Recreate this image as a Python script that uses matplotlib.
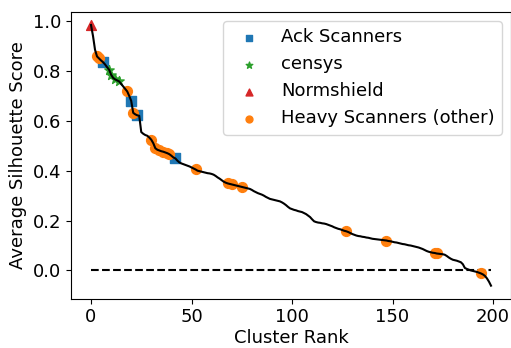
import matplotlib
matplotlib.use("Agg")
import matplotlib.pyplot as plt
import numpy as np

scores = [
    0.984, 0.940, 0.885, 0.858, 0.850, 0.842, 0.835, 0.826, 0.815, 0.805,
    0.785, 0.772, 0.766, 0.762, 0.758, 0.748, 0.738, 0.728, 0.718, 0.700,
    0.680, 0.632, 0.626, 0.622, 0.620, 0.555, 0.548, 0.543, 0.540, 0.533,
    0.524, 0.510, 0.490, 0.484, 0.481, 0.478, 0.476, 0.473, 0.470, 0.466,
    0.460, 0.453, 0.449, 0.440, 0.433, 0.429, 0.426, 0.423, 0.420, 0.417,
    0.413, 0.409, 0.405, 0.400, 0.398, 0.396, 0.394, 0.392, 0.390, 0.389,
    0.387, 0.384, 0.379, 0.373, 0.368, 0.362, 0.356, 0.352, 0.349, 0.347,
    0.345, 0.343, 0.341, 0.339, 0.337, 0.335, 0.333, 0.331, 0.329, 0.327,
    0.323, 0.318, 0.314, 0.310, 0.307, 0.304, 0.300, 0.295, 0.291, 0.287,
    0.285, 0.283, 0.281, 0.279, 0.277, 0.273, 0.268, 0.262, 0.255, 0.249,
    0.246, 0.243, 0.241, 0.238, 0.236, 0.234, 0.230, 0.226, 0.220, 0.214,
    0.205, 0.197, 0.194, 0.192, 0.191, 0.189, 0.188, 0.186, 0.183, 0.180,
    0.177, 0.173, 0.170, 0.167, 0.165, 0.162, 0.159, 0.157, 0.154, 0.150,
    0.146, 0.143, 0.140, 0.138, 0.137, 0.135, 0.134, 0.132, 0.131, 0.129,
    0.127, 0.126, 0.125, 0.124, 0.123, 0.122, 0.121, 0.120, 0.118, 0.117,
    0.115, 0.113, 0.112, 0.110, 0.108, 0.106, 0.105, 0.103, 0.101, 0.100,
    0.098, 0.096, 0.094, 0.092, 0.089, 0.086, 0.082, 0.078, 0.075, 0.073,
    0.071, 0.070, 0.068, 0.067, 0.066, 0.065, 0.063, 0.058, 0.052, 0.047,
    0.043, 0.041, 0.039, 0.036, 0.033, 0.025, 0.010, 0.006, 0.003, 0.000,
    -0.002, -0.004, -0.006, -0.009, -0.012, -0.016, -0.022, -0.032, -0.045, -0.061,
]

ack_ranks = [6, 20, 23, 42]
censys_ranks = [9, 10, 12, 14]
normshield_ranks = [0]
heavy_ranks = [3, 4, 18, 21, 30, 32, 34, 36, 38, 39, 52, 68, 70, 75,
               127, 147, 171, 172, 194]

labels = ["Ack Scanners", "censys", "Normshield", "Heavy Scanners (other)"]
xticks = [0, 50, 100, 150, 200]
yticks = [0.0, 0.2, 0.4, 0.6, 0.8, 1.0]

fig = plt.figure(figsize=(5.11, 3.48), dpi=100)
ax = fig.add_axes([71 / 511, 1 - 298.7 / 348, 1 - 71 / 511, (298.7 - 12) / 348])

ranks = np.arange(len(scores))
sc = np.array(scores)

groups = [
    (ack_ranks, "s", "#1f77b4"),
    (censys_ranks, "*", "#2ca02c"),
    (normshield_ranks, "^", "#d62728"),
    (heavy_ranks, "o", "#ff7f0e"),
]
for (rk, mk, col), lab in zip(groups, labels):
    rk = np.array(rk)
    ax.scatter(rk, sc[rk], marker=mk, color=col, s=50, label=lab, zorder=2)

ax.plot(ranks, sc, color="black", lw=1.5, zorder=3)
ax.plot([0, len(scores) - 1], [0, 0], color="black", ls="--", lw=1.5, zorder=1)

ax.set_xticks(xticks)
ax.set_yticks(yticks)
ax.tick_params(labelsize=13)
ax.set_xlabel("Cluster Rank", fontsize=13, labelpad=2)
ax.set_ylabel("Average Silhouette Score", fontsize=13)
ax.legend(loc="upper right", fontsize=13, markerscale=0.7)

fig.savefig("out.png", dpi=100)
